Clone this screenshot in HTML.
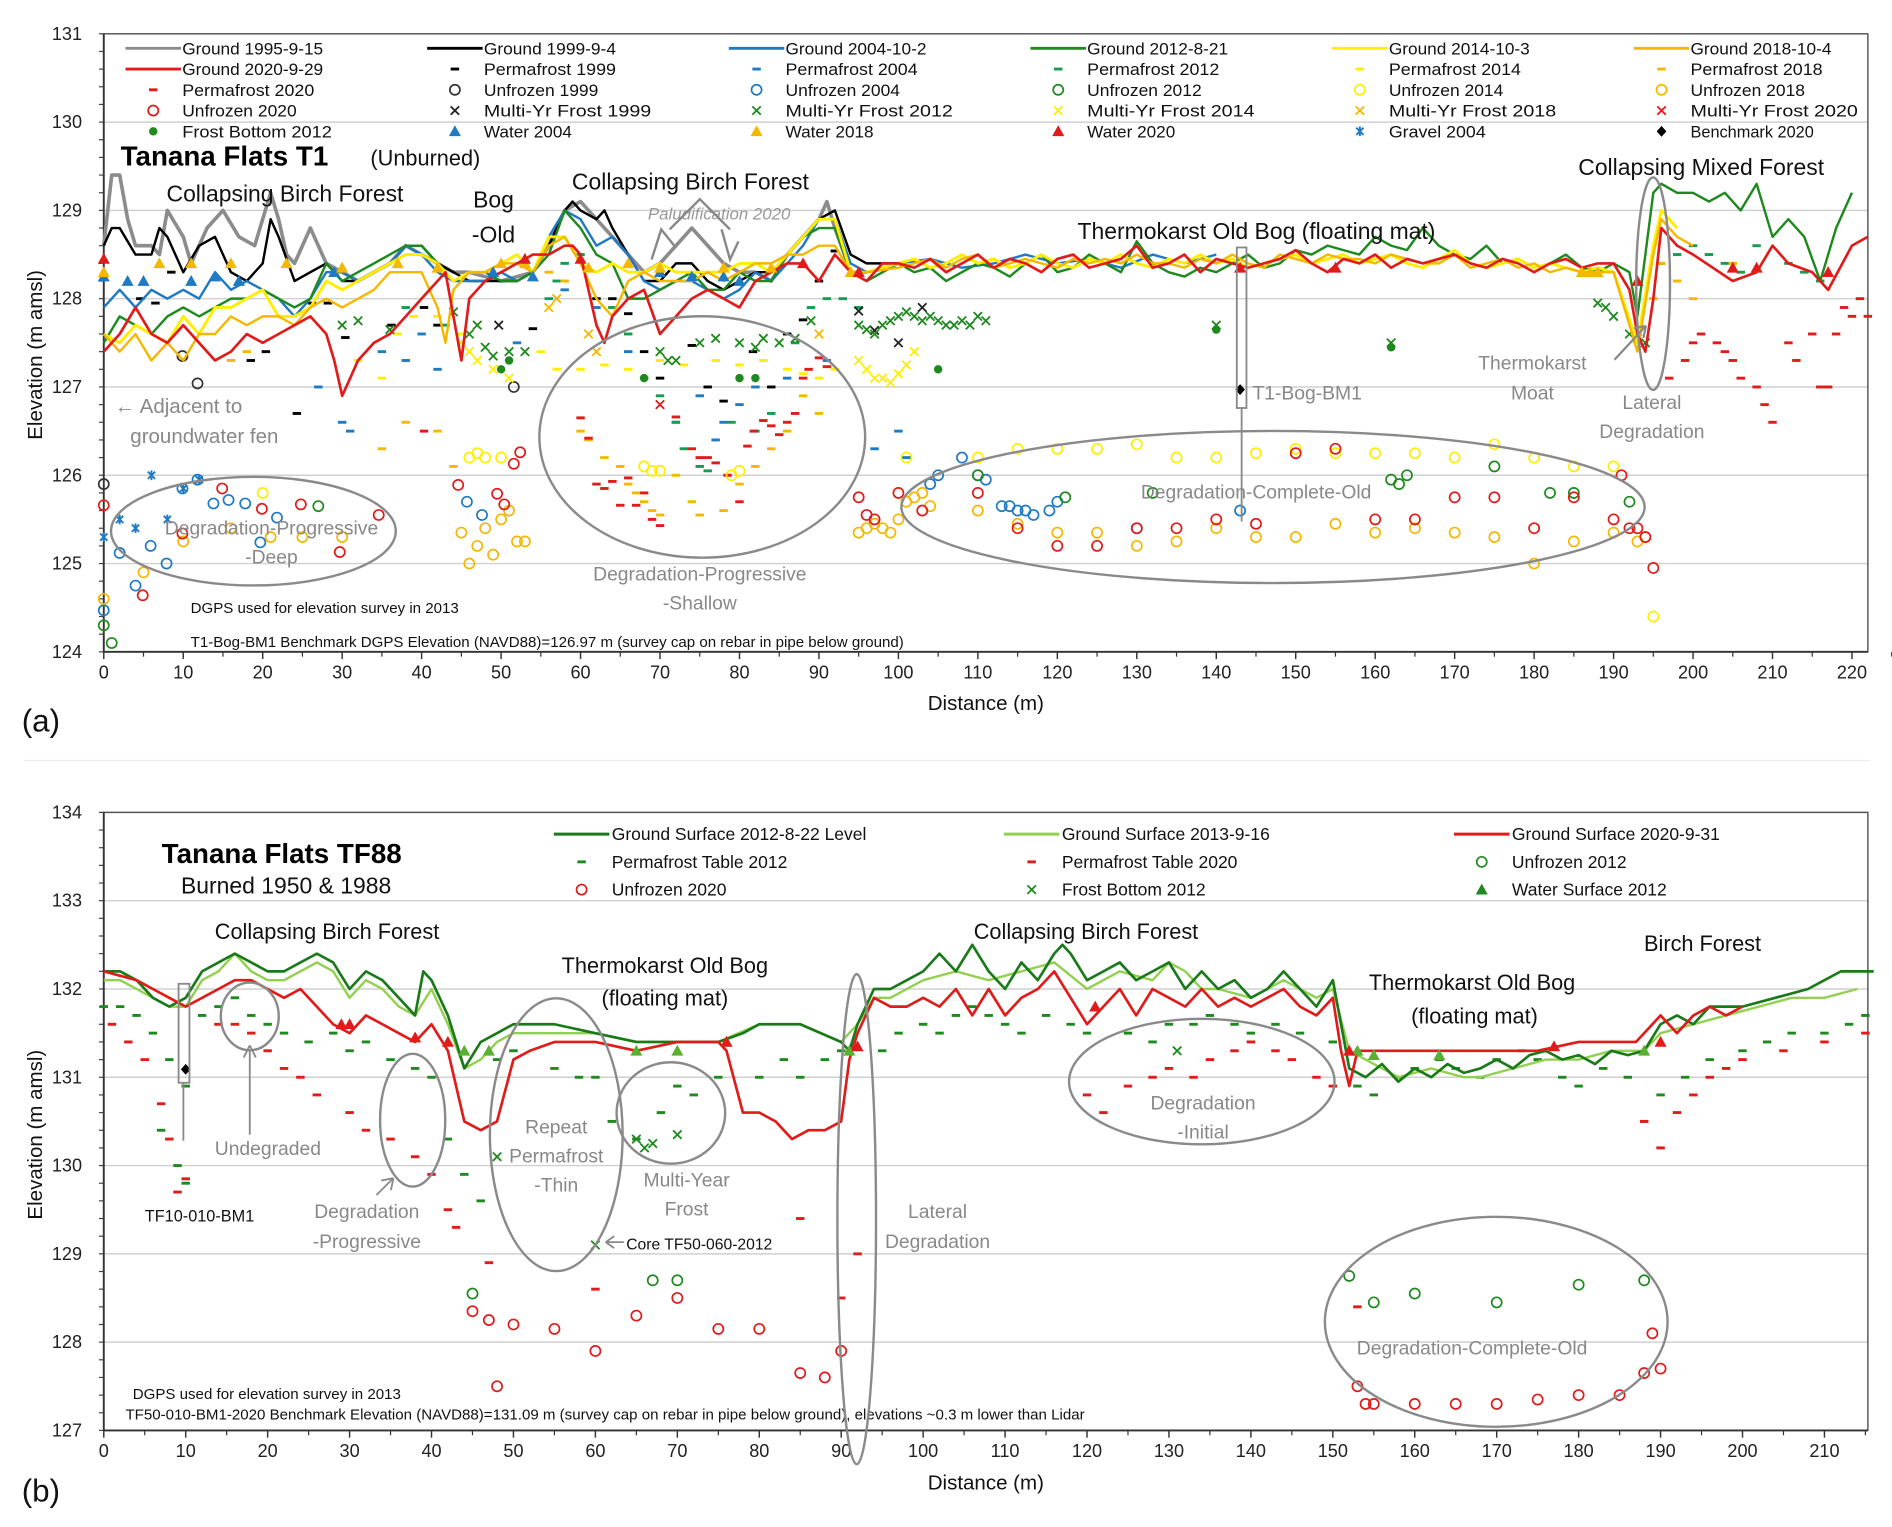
<!DOCTYPE html>
<html><head><meta charset="utf-8">
<style>
html,body{margin:0;padding:0;background:#fff;}
svg{display:block;font-family:"Liberation Sans",sans-serif;}
</style></head>
<body>
<svg id="fig" width="1892" height="1527" viewBox="0 0 1568 1265" preserveAspectRatio="none" xmlns="http://www.w3.org/2000/svg">
<g id="A"></g>
<g id="B"></g>
</svg>
<script>
// ---------- DATA: chart (a) ----------
const aXTicks=[0,10,20,30,40,50,60,70,80,90,100,110,120,130,140,150,160,170,180,190,200,210,220];
const aYTicks=[124,125,126,127,128,129,130,131];
const flatX=[100,102,104,106,108,110,112,114,116,118,120,122,124,126,128,130,132,134,136,138,140,142,144,146,148,150,152,154,156,158,160,162,164,166,168,170,172,174,176,178,180,182,184,186,188,190];
const flat2012=[128.4,128.3,128.35,128.2,128.3,128.4,128.35,128.25,128.4,128.5,128.3,128.35,128.5,128.4,128.3,128.65,128.4,128.3,128.25,128.35,128.3,128.4,128.5,128.35,128.4,128.55,128.5,128.6,128.55,128.5,128.7,128.6,128.55,128.8,128.6,128.5,128.45,128.6,128.4,128.45,128.35,128.4,128.5,128.35,128.3,128.4];
const flat2014=[128.4,128.45,128.35,128.4,128.5,128.4,128.45,128.35,128.4,128.5,128.4,128.35,128.45,128.4,128.5,128.4,128.35,128.45,128.4,128.5,128.4,128.45,128.35,128.4,128.45,128.5,128.4,128.45,128.5,128.4,128.45,128.5,128.4,128.35,128.45,128.55,128.4,128.35,128.4,128.45,128.35,128.4,128.35,128.3,128.35,128.3];
const flat2018=[128.35,128.4,128.45,128.35,128.45,128.5,128.35,128.4,128.45,128.4,128.35,128.45,128.4,128.45,128.4,128.5,128.4,128.4,128.35,128.45,128.4,128.5,128.4,128.35,128.5,128.45,128.4,128.5,128.45,128.45,128.4,128.5,128.45,128.4,128.4,128.5,128.35,128.4,128.45,128.35,128.4,128.3,128.35,128.3,128.3,128.3];
const flat2020=[128.4,128.35,128.45,128.3,128.4,128.5,128.35,128.45,128.4,128.3,128.45,128.5,128.35,128.4,128.45,128.6,128.35,128.4,128.5,128.3,128.45,128.4,128.35,128.4,128.45,128.55,128.4,128.3,128.45,128.4,128.5,128.35,128.45,128.4,128.45,128.5,128.4,128.35,128.45,128.4,128.3,128.4,128.45,128.35,128.4,128.4];
const g1995x=[0,1,2,3,4,6,7,8,10,11,13,15,17,19,21,22,23,24,26,28,30,32,34,36,38,40,42,44,46,50,54,56,58,60,62,64,66,68,70,72,74,76,78,80,82,84,86,88,90,91,92,94,96];
const g1995y=[128.6,129.4,129.4,128.9,128.6,128.6,128.5,129.0,128.7,128.4,128.8,129.0,128.7,128.6,129.2,128.9,128.5,128.4,128.8,128.4,128.3,128.2,128.3,128.4,128.6,128.5,128.4,128.3,128.3,128.2,128.3,128.6,129.0,129.1,128.9,128.7,128.5,128.3,128.4,128.6,128.8,128.6,128.4,128.3,128.3,128.2,128.5,128.7,128.9,129.1,128.8,128.3,128.3];
const g1999x=[0,1,2,4,6,7,8,10,12,14,16,18,20,21,22,24,26,28,30,32,34,36,38,40,42,44,46,48,50,52,54,56,58,59,60,62,63,64,66,68,70,72,74,76,78,80,82,84,86,88,90,92,94,96,98,100];
const g1999y=[128.6,128.8,128.8,128.5,128.5,128.8,128.7,128.3,128.6,128.7,128.3,128.2,128.4,128.9,128.7,128.2,128.3,128.4,128.2,128.2,128.3,128.4,128.6,128.6,128.4,128.3,128.2,128.2,128.2,128.2,128.3,128.6,129.0,129.1,129.0,128.9,129.0,128.8,128.5,128.2,128.2,128.4,128.4,128.2,128.1,128.2,128.3,128.3,128.5,128.7,128.9,129.0,128.5,128.4,128.4,128.4];
const g2004x=[0,2,4,6,8,10,12,14,16,18,20,22,24,26,28,30,32,34,36,38,40,42,44,46,48,50,52,54,56,58,60,62,64,66,68,70,72,74,76,78,80,82,84,86,88,90,92,94,96,100,104,108,112,116,120,124,128,132,136,140];
const g2004y=[127.9,128.1,127.9,128.1,128.0,128.1,128.0,128.3,128.1,128.2,128.1,128.0,127.8,128.0,128.3,128.3,128.2,128.3,128.4,128.6,128.5,128.3,128.2,128.2,128.2,128.3,128.2,128.3,128.7,129.0,128.9,128.6,128.7,128.5,128.2,128.1,128.2,128.2,128.1,128.0,128.1,128.3,128.2,128.4,128.6,128.9,128.9,128.4,128.3,128.4,128.45,128.35,128.4,128.5,128.4,128.45,128.35,128.5,128.4,128.5];
const g2012x=[0,2,4,6,8,10,12,14,16,18,20,22,24,26,28,30,32,34,36,38,40,42,44,46,48,50,52,54,56,58,60,62,64,66,68,70,72,74,76,78,80,82,84,86,88,90,92,94,96,...flatX,192,193,194,195,196,198,200,202,204,206,208,210,212,214,216,218,220];
const g2012y=[127.5,127.8,127.7,127.6,127.8,127.9,127.8,127.9,128.0,128.0,128.1,128.0,127.9,128.0,128.4,128.2,128.3,128.4,128.5,128.6,128.6,128.4,128.2,128.3,128.3,128.2,128.2,128.3,128.5,129.0,128.8,128.5,128.4,128.0,128.0,128.1,128.2,128.3,128.1,128.1,128.3,128.2,128.2,128.5,128.7,128.8,128.8,128.3,128.2,...flat2012,128.3,127.8,128.5,129.2,129.3,129.2,129.2,129.1,129.2,129.0,129.3,128.7,128.9,128.7,128.2,128.8,129.2];
const g2014x=[0,2,4,6,8,10,12,14,16,18,20,22,24,26,28,30,32,34,36,38,40,42,44,46,48,50,52,54,56,58,60,62,64,66,68,70,72,74,76,78,80,82,84,86,88,90,92,94,96,...flatX,193,195,196,198];
const g2014y=[127.6,127.5,127.7,127.6,127.5,127.8,127.6,127.9,127.9,128.0,128.1,127.8,127.8,127.9,128.2,128.1,128.2,128.3,128.4,128.5,128.5,128.4,128.2,128.3,128.3,128.4,128.5,128.3,128.7,128.7,128.4,128.3,128.4,128.3,128.3,128.4,128.3,128.3,128.3,128.3,128.4,128.4,128.3,128.5,128.7,128.9,128.9,128.3,128.3,...flat2014,127.5,128.6,129.0,128.8];
const g2018x=[0,2,4,6,8,10,12,14,16,18,20,22,24,26,28,30,32,34,36,38,40,42,43,44,46,48,50,52,54,56,58,60,62,64,66,68,70,72,74,76,78,80,82,84,86,88,90,92,94,96,...flatX,193,195,196,198,200];
const g2018y=[127.6,127.4,127.6,127.3,127.5,127.3,127.6,127.6,127.8,127.7,127.8,127.8,127.7,127.9,128.0,127.9,128.0,128.1,128.3,128.3,128.3,127.9,127.5,128.1,128.3,128.3,128.4,128.4,128.3,128.6,128.7,128.4,128.0,127.8,128.2,128.3,128.2,128.2,128.2,128.3,128.2,128.3,128.4,128.4,128.5,128.5,128.6,128.6,128.3,128.3,...flat2018,127.4,128.5,128.9,128.7,128.6];
const g2020x=[0,2,4,6,8,10,12,14,16,18,20,22,24,26,28,29,30,31,32,34,36,38,40,42,43,44,45,46,48,50,52,54,56,58,59,60,61,62,63,64,66,68,70,72,74,76,78,80,82,84,86,88,90,92,94,96,98,...flatX,192,193,194,195,196,198,200,205,208,210,212,215,217,220,222];
const g2020y=[127.4,127.6,127.9,127.6,127.5,127.7,127.5,127.3,127.4,127.6,127.5,127.6,127.7,127.8,127.6,127.3,126.9,127.1,127.3,127.5,127.6,127.8,128.0,128.2,128.3,127.8,127.3,128.0,128.2,128.3,128.4,128.5,128.5,128.6,128.6,128.5,128.1,127.7,127.5,127.8,128.0,128.1,127.6,127.8,128.0,128.1,128.0,127.9,128.2,128.3,128.4,128.4,128.2,128.5,128.3,128.2,128.4,...flat2020,128.1,127.6,127.4,128.0,128.8,128.6,128.5,128.2,128.3,128.6,128.4,128.3,128.1,128.6,128.7];
const pf1999=[[4.6,128],[6.5,127.95],[8.5,128.3],[18.5,127.3],[20.4,127.4],[24.3,126.7],[26.2,127.95],[28.2,127.95],[30.4,127.56],[36.2,127.7],[40.3,127.9],[42,127.7],[54,127.66],[62,128],[64,128],[66,127.83],[68,127.4],[70,127.1],[74,127.47],[76,127],[78,126.84],[81.7,127.4],[84,127],[86,127.6],[88,127.76],[90,128.2],[92,128.54]];
const pf2004=[[27,127],[30,126.6],[31,126.5],[35,127.4],[38,127.3],[40,127.6],[42,127.2],[52,127.5],[58,128.1],[62,127.9],[66,127.4],[72,126.6],[75,126.9],[77,126.4],[78,126.6],[80,126.8],[82,127],[86,127.1],[91,127.3],[97,126.3],[100,126.5],[101,126.2]];
const pf2012=[[38,127.9],[43,127.7],[56,128],[57,128.2],[58,128.4],[60,128.5],[64,127.9],[66,127.6],[68,127.1],[70,126.9],[72,126.6],[73,126.3],[75,126.1],[76,126.05],[79,126.6],[82,126.5],[84,126.7],[87,127.5],[89,127.9],[91,128],[93,128],[95,127.9],[196,128.4],[198,128.5],[200,128.6],[202,128.5],[204,128.4],[206,128.3],[208,128.6],[212,128.4],[214,128.3],[216,128.2]];
const pf2014=[[32,127.3],[35,127.1],[37,127.6],[39,127.8],[42,127.8],[45,127.6],[55,127.4],[57,127.2],[60,127.2],[63,127.25],[66,127.2],[70,127.3],[73,127.25],[77,127.3],[80,127.25],[83,127.3],[86,127.2],[88,127.15],[90,127.1],[92,127.2]];
const pf2018=[[16,127.3],[18,127.4],[35,126.3],[38,126.6],[42,126.5],[44,126.1],[56,128.3],[58,128.2],[60,126.5],[61,126.4],[63,126.2],[65,126.1],[66,125.9],[67,125.8],[68,125.7],[69,125.6],[70,125.55],[72,126],[74,125.7],[75,125.55],[78,125.6],[80,125.9],[82,126.1],[84,126.3],[86,126.5],[88,126.9],[90,126.7],[195,128],[196,128.4],[198,128.2],[200,128],[205,128.4]];
const pf2020=[[40.3,126.5],[60,126.65],[61,126.42],[62,125.9],[63,125.85],[64,125.93],[65,125.66],[66,125.97],[67,125.66],[68,125.8],[69,125.5],[70,125.43],[72,126.66],[74,126.3],[75,126.2],[76,126.2],[77,126.14],[78.5,126],[80,125.7],[81,126.33],[81.8,126.5],[83,126.62],[84,126.56],[85,126.46],[86,126.6],[87,126.7],[88,127.1],[88.7,127.2],[90,127.33],[91,127.23],[197,127.1],[199,127.3],[200,127.5],[201,127.6],[203,127.5],[204,127.4],[205,127.3],[206,127.1],[208,127],[209,126.8],[210,126.6],[212,127.5],[213,127.3],[215,127.6],[216,127],[217,127],[218,127.6],[219,127.9],[220,127.8],[221,128],[222,127.8]];
const uf1999=[[9.9,127.35],[11.8,127.04],[51.6,127],[0,125.9]];
const uf2004=[[13.8,125.68],[15.7,125.72],[17.8,125.68],[19.7,125.24],[21.8,125.52],[2,125.12],[4,124.75],[5.9,125.2],[7.9,125],[0,124.47],[45.7,125.7],[47.6,125.55],[9.9,125.85],[11.8,125.95],[104,125.9],[105,126],[108,126.2],[110,126],[111,125.95],[113,125.65],[114,125.65],[115,125.6],[116,125.6],[117,125.55],[119,125.6],[120,125.7],[130,125.4],[143,125.6]];
const uf2012=[[0,124.3],[1,124.1],[27,125.65],[110,126],[121,125.75],[132,125.8],[162,125.95],[163,125.9],[164,126],[175,126.1],[182,125.8],[185,125.8],[192,125.7]];
const uf2014=[[20,125.8],[46,126.2],[47,126.25],[48,126.2],[50,126.2],[68,126.1],[69,126.05],[70,126.05],[79,126],[80,126.05],[101,126.2],[110,126.2],[115,126.3],[120,126.3],[125,126.3],[130,126.35],[135,126.2],[140,126.2],[145,126.25],[150,126.3],[155,126.25],[160,126.25],[165,126.25],[170,126.2],[175,126.35],[180,126.2],[185,126.1],[190,126.1],[194,125.3],[195,124.4]];
const uf2018=[[0,124.6],[5,124.9],[10,125.25],[16,125.4],[21,125.3],[25,125.3],[30,125.3],[45,125.35],[46,125],[47,125.2],[48,125.4],[49,125.1],[50,125.5],[51,125.6],[52,125.25],[53,125.25],[95,125.35],[96,125.4],[97,125.45],[98,125.4],[99,125.35],[100,125.5],[101,125.7],[102,125.75],[103,125.8],[104,125.65],[110,125.6],[115,125.45],[120,125.35],[125,125.35],[130,125.2],[135,125.25],[140,125.4],[145,125.3],[150,125.3],[155,125.45],[160,125.35],[165,125.4],[170,125.35],[175,125.3],[180,125],[185,125.25],[190,125.35],[193,125.25]];
const uf2020=[[0,125.66],[4.9,124.64],[9.9,125.34],[14.9,125.85],[19.9,125.62],[24.8,125.67],[29.7,125.13],[34.6,125.55],[44.6,125.89],[49.5,125.79],[50.4,125.67],[51.6,126.13],[52.4,126.26],[95,125.75],[96,125.55],[97,125.5],[100,125.8],[103,125.6],[110,125.8],[115,125.4],[120,125.2],[125,125.2],[130,125.4],[135,125.4],[140,125.5],[145,125.45],[150,126.25],[155,126.3],[160,125.5],[165,125.5],[170,125.75],[175,125.75],[180,125.4],[185,125.75],[190,125.5],[191,126],[192,125.4],[193,125.4],[194,125.3],[195,124.95]];
const mx1999=[[49.7,127.7],[95,127.86],[97,127.64],[100,127.5],[103,127.9]];
const mx2012=[[30,127.7],[32,127.75],[36,127.65],[44,127.85],[46,127.6],[47,127.7],[48,127.45],[49,127.35],[51,127.4],[53,127.4],[70,127.4],[71,127.3],[72,127.3],[75,127.5],[77,127.55],[80,127.5],[82,127.45],[83,127.55],[85,127.5],[87,127.55],[89,127.75],[95,127.7],[96,127.65],[97,127.6],[98,127.7],[99,127.75],[100,127.8],[101,127.85],[102,127.8],[103,127.75],[104,127.8],[105,127.75],[106,127.7],[107,127.7],[108,127.75],[109,127.7],[110,127.8],[111,127.75],[140,127.7],[162,127.5],[188,127.95],[189,127.9],[190,127.8],[192,127.6],[193,127.55],[194,127.5]];
const mx2014=[[45,127.5],[46,127.4],[47,127.3],[49,127.2],[51,127.1],[95,127.3],[96,127.2],[97,127.1],[98,127.1],[99,127.05],[100,127.15],[101,127.25],[102,127.4]];
const mx2018=[[56,127.9],[57,128],[61,127.6],[62,127.4],[90,127.6]];
const mx2020=[[70,126.8]];
const fb2012=[[50,127.2],[51,127.3],[68,127.1],[80,127.1],[82,127.1],[105,127.2],[140,127.65],[162,127.45]];
const wt2004=[[0,128.25],[3,128.2],[5,128.2],[11,128.2],[14,128.25],[17,128.2],[29,128.3],[49,128.3],[54,128.25],[70,128.3],[74,128.25],[78,128.25],[80,128.2]];
const wt2018=[[0,128.3],[7,128.4],[11,128.4],[16,128.4],[23,128.4],[30,128.35],[37,128.4],[42,128.35],[50,128.4],[53,128.4],[61,128.35],[66,128.4],[70,128.35],[78,128.35],[84,128.35],[94,128.3],[186,128.3],[187,128.3],[188,128.3]];
const wt2020=[[0,128.45],[53,128.45],[60,128.45],[88,128.4],[95,128.3],[143,128.35],[155,128.35],[193,128.2],[205,128.35],[208,128.35],[217,128.3]];
const gr2004=[[0,125.3],[2,125.5],[4,125.4],[6,126],[8,125.5],[10,125.85],[12,125.95]];
const bm2020=[[143,126.97]];

// ---------- DATA: chart (b) ----------
const bXTicks=[0,10,20,30,40,50,60,70,80,90,100,110,120,130,140,150,160,170,180,190,200,210];
const bYTicks=[127,128,129,130,131,132,133,134];
const b2012x=[0,2,4,6,8,10,12,14,16,18,20,22,24,26,28,30,32,34,36,38,39,40,42,44,46,48,50,52,55,60,65,70,75,78,80,85,90,91,92,94,96,98,100,102,104,106,108,110,112,114,116,117,118,120,122,124,126,128,130,132,134,136,138,140,142,144,146,148,150,151,152,154,156,158,160,162,164,166,168,170,172,174,176,178,180,182,184,186,188,190,192,194,196,200,204,208,210,212,214,216];
const b2012y=[132.2,132.2,132.1,131.9,131.8,131.9,132.2,132.3,132.4,132.3,132.2,132.2,132.3,132.4,132.3,132.0,132.2,132.1,131.9,131.7,132.2,132.1,131.7,131.1,131.4,131.5,131.6,131.6,131.6,131.5,131.4,131.4,131.4,131.5,131.6,131.6,131.4,131.3,131.6,132.0,132.0,132.1,132.2,132.4,132.2,132.5,132.2,132.0,132.3,132.1,132.4,132.5,132.4,132.1,132.2,132.3,132.1,132.2,132.3,132.0,132.2,132.0,132.1,131.9,132.0,132.2,132.0,131.8,132.1,131.6,131.1,131.0,131.15,130.95,131.1,131.0,131.15,131.05,131.1,131.2,131.1,131.25,131.3,131.2,131.25,131.15,131.3,131.25,131.3,131.6,131.7,131.6,131.8,131.8,131.9,132.0,132.1,132.2,132.2,132.2];
const b2013x=[0,2,4,6,8,10,12,14,16,18,20,22,24,26,28,30,32,34,36,38,40,42,44,46,48,50,55,60,65,70,75,80,85,90,92,94,96,100,104,108,112,116,120,124,128,130,132,134,136,140,144,148,150,152,154,158,162,166,168,176,180,184,188,190,194,198,202,206,210,214];
const b2013y=[132.1,132.1,132.0,131.9,131.8,131.8,132.1,132.2,132.4,132.2,132.1,132.1,132.2,132.3,132.2,131.9,132.1,132.0,131.8,131.7,132.0,131.6,131.1,131.2,131.4,131.5,131.5,131.5,131.4,131.4,131.4,131.6,131.6,131.4,131.6,131.9,131.9,132.1,132.2,132.1,132.2,132.3,132.0,132.2,132.1,132.3,132.2,132.0,132.0,131.9,132.1,131.9,132.0,131.3,131.2,131.0,131.1,131.0,131.0,131.2,131.2,131.3,131.3,131.5,131.6,131.7,131.8,131.9,131.9,132.0];
const b2020x=[0,4,6,8,10,12,14,16,18,20,22,24,28,30,32,34,36,38,40,42,44,46,48,50,52,55,60,65,70,75,76,78,80,82,84,86,88,90,91,92,94,96,98,100,102,104,106,108,110,112,114,116,118,120,122,124,126,128,130,132,134,136,138,140,142,144,146,148,150,151,152,153,156,160,165,170,175,180,185,187,190,192,194,196,198,200];
const b2020y=[132.2,132.1,132.0,131.9,131.8,131.9,132.0,132.1,132.1,132.0,131.9,132.0,131.6,131.5,131.7,131.6,131.5,131.4,131.6,131.3,130.5,130.4,130.5,131.2,131.3,131.4,131.4,131.3,131.4,131.4,131.3,130.6,130.6,130.5,130.3,130.4,130.4,130.5,131.2,131.5,131.9,131.8,131.8,131.9,131.8,132.0,131.7,132.0,131.7,131.9,132.0,132.2,131.9,131.6,131.8,132.0,131.7,132.0,131.9,131.8,132.0,131.8,131.9,131.8,131.9,132.0,131.8,131.7,131.9,131.3,130.9,131.3,131.3,131.3,131.3,131.3,131.3,131.4,131.4,131.4,131.7,131.5,131.7,131.8,131.7,131.8];
const bpf2012=[[0,131.8],[2,131.8],[4,131.7],[6,131.5],[8,131.2],[10,130.9],[7,130.4],[9,130.0],[10,129.8],[12,131.7],[14,131.8],[16,131.9],[18,131.7],[20,131.6],[22,131.5],[25,131.4],[28,131.5],[30,131.3],[32,131.4],[35,131.2],[38,131.1],[40,131.0],[42,130.3],[44,129.9],[46,129.6],[48,131.2],[50,131.3],[55,131.1],[58,131.0],[60,131.0],[62,130.5],[65,130.3],[68,130.6],[70,130.9],[72,130.8],[75,131.0],[80,131.0],[83,131.2],[85,131.0],[88,131.2],[90,131.3],[95,131.3],[97,131.5],[100,131.6],[102,131.5],[104,131.7],[106,131.8],[108,131.7],[110,131.6],[112,131.5],[115,131.7],[118,131.6],[120,131.5],[125,131.5],[128,131.4],[130,131.6],[133,131.6],[135,131.7],[138,131.6],[140,131.5],[143,131.6],[146,131.5],[150,131.4],[153,130.9],[155,130.8],[158,131.0],[160,131.1],[163,131.2],[165,131.1],[168,131.0],[170,131.2],[173,131.3],[175,131.2],[178,131.0],[180,130.9],[183,131.1],[186,131.0],[188,130.5],[190,130.8],[193,131.0],[196,131.2],[200,131.3],[203,131.4],[206,131.5],[210,131.5],[213,131.6],[215,131.7]];
const bpf2020=[[1,131.6],[3,131.4],[5,131.2],[7,130.7],[8,130.3],[9,129.7],[10,129.85],[14,131.6],[16,131.6],[18,131.5],[20,131.3],[22,131.1],[24,131.0],[26,130.8],[30,130.6],[32,130.4],[35,130.3],[38,130.1],[40,129.9],[42,129.5],[43,129.3],[47,128.9],[60,128.6],[85,129.4],[90,128.5],[92,129.0],[120,130.8],[122,130.6],[125,130.9],[128,131.0],[130,131.1],[133,131.0],[135,131.2],[138,131.3],[140,131.4],[143,131.3],[145,131.2],[148,131.0],[150,130.9],[153,128.4],[188,130.5],[190,130.2],[192,130.6],[194,130.8],[196,131.0],[198,131.1],[200,131.2],[205,131.3],[210,131.4],[215,131.5]];
const buf2012=[[45,128.55],[67,128.7],[70,128.7],[152,128.75],[155,128.45],[160,128.55],[170,128.45],[180,128.65],[188,128.7]];
const buf2020=[[45,128.35],[47,128.25],[50,128.2],[55,128.15],[60,127.9],[65,128.3],[70,128.5],[75,128.15],[80,128.15],[85,127.65],[88,127.6],[90,127.9],[48,127.5],[153,127.5],[154,127.3],[155,127.3],[160,127.3],[165,127.3],[170,127.3],[175,127.35],[180,127.4],[185,127.4],[188,127.65],[189,128.1],[190,127.7]];
const bfb2012=[[48,130.1],[65,130.3],[66,130.2],[67,130.25],[70,130.35],[60,129.1],[131,131.3]];
const bwt2012=[[44,131.3],[47,131.3],[65,131.3],[70,131.3],[76,131.4],[91,131.3],[153,131.3],[155,131.25],[163,131.25],[188,131.3]];
const bwt2020=[[29,131.6],[30,131.6],[38,131.45],[42,131.4],[76,131.4],[92,131.35],[121,131.8],[152,131.3],[177,131.35],[190,131.4]];
const bbm=[[10,131.09]];

// ---------- DRAWING ----------
const NS="http://www.w3.org/2000/svg";
function mk(parent,tag,attrs,txt){const e=document.createElementNS(NS,tag);for(const k in attrs)e.setAttribute(k,attrs[k]);if(txt!==undefined)e.textContent=txt;parent.appendChild(e);return e;}
const C={gray:"#8c8c8c",black:"#000",blue:"#1f7ac4",green:"#1e8a1e",yellow:"#ffee00",gold:"#f5b800",red:"#e11a1a",lgreen:"#92d050",dgreen:"#1a7a1a"};

function axesFactory(L,T,R,B,x0,x1,y0,y1){
  return {X:v=>L+(v-x0)/(x1-x0)*(R-L), Y:v=>B-(v-y0)/(y1-y0)*(B-T)};
}
function marker(g,type,px,py,col){
  let e;
  if(type==="dash"){e=mk(g,"line",{x1:px-3.5,x2:px+3.5,y1:py,y2:py,stroke:col,"stroke-width":2.4});}
  else if(type==="circle"){e=mk(g,"circle",{cx:px,cy:py,r:4.2,fill:"none",stroke:col,"stroke-width":1.4});}
  else if(type==="x"){e=mk(g,"path",{d:`M${px-3.5},${py-3.5}L${px+3.5},${py+3.5}M${px-3.5},${py+3.5}L${px+3.5},${py-3.5}`,stroke:col,"stroke-width":1.5,fill:"none"});}
  else if(type==="dot"){e=mk(g,"circle",{cx:px,cy:py,r:3.5,fill:col});}
  else if(type==="tri"){e=mk(g,"path",{d:`M${px},${py-5}L${px+5},${py+4}L${px-5},${py+4}Z`,fill:col});}
  else if(type==="star"){e=mk(g,"path",{d:`M${px-3},${py-3}L${px+3},${py+3}M${px-3},${py+3}L${px+3},${py-3}M${px},${py-4}L${px},${py+4}`,stroke:col,"stroke-width":1.6,fill:"none"});}
  else if(type==="diamond"){e=mk(g,"path",{d:`M${px},${py-4.5}L${px+4},${py}L${px},${py+4.5}L${px-4},${py}Z`,fill:col});}
  return e;
}
function drawLine(g,ax,xs,ys,col,w,name){
  const n=Math.min(xs.length,ys.length);
  let d="";
  for(let i=0;i<n;i++){d+=(i?"L":"M")+ax.X(xs[i]).toFixed(1)+","+ax.Y(ys[i]).toFixed(1);}
  const p=mk(g,"path",{d:d,fill:"none",stroke:col,"stroke-width":w,"stroke-linejoin":"round"});
  
  
}
function drawPts(g,ax,pts,type,col,name){
  const sg=mk(g,"g",{});
  
  
  pts.forEach(p=>{const m=marker(sg,type,ax.X(p[0]),ax.Y(p[1]),col);
    
    });
}
function frame(g,ax,L,T,R,B,xt,yt,name){
  yt.forEach(v=>{const l=mk(g,"line",{x1:L,x2:R,y1:ax.Y(v),y2:ax.Y(v),stroke:"#d0d0d0","stroke-width":1.2});
    
    
    const t=mk(g,"text",{x:L-18,y:ax.Y(v)+5,"text-anchor":"end","font-size":15,fill:"#222"},String(v));
    
    });
  for(let v=yt[0];v<yt[yt.length-1];v+=0.2){mk(g,"line",{x1:L-4,x2:L,y1:ax.Y(v),y2:ax.Y(v),stroke:"#444","stroke-width":1});}
  const fr=mk(g,"rect",{x:L,y:T,width:R-L,height:B-T,fill:"none",stroke:"#555","stroke-width":1.2});
  
  
  mk(g,"line",{x1:L,x2:L,y1:T,y2:B,stroke:"#333","stroke-width":1.6});
  mk(g,"line",{x1:L,x2:R,y1:B,y2:B,stroke:"#333","stroke-width":1.6});
  xt.forEach(v=>{const x=ax.X(v);mk(g,"line",{x1:x,x2:x,y1:B,y2:B+6,stroke:"#333","stroke-width":1.2});
    const t=mk(g,"text",{x:x,y:B+22,"text-anchor":"middle","font-size":15,fill:"#222"},String(v));
    
    
    mk(g,"line",{x1:x+ax.X(5)-ax.X(0),x2:x+ax.X(5)-ax.X(0),y1:B,y2:B+4,stroke:"#333","stroke-width":1});});
}
function txt(g,x,y,s,size,col,name,anchor,extra){
  const a={x:x,y:y,"font-size":size,fill:col,"text-anchor":anchor||"start"};
  if(extra)Object.assign(a,extra);
  const t=mk(g,"text",a,s);
  
  
  return t;
}
function ell(g,cx,cy,rx,ry,name){const e=mk(g,"ellipse",{cx:cx,cy:cy,rx:rx,ry:ry,fill:"none",stroke:"#8a8a8a","stroke-width":2});
  
  }

// ===== Chart A =====
const gA=document.getElementById("A");
const axA=axesFactory(86,28,1548,540,0,222,124,131);
frame(gA,axA,86,28,1548,540,aXTicks,aYTicks,"chart-a");
drawPts(gA,axA,pf1999,"dash",C.black,"permafrost-1999");
drawPts(gA,axA,pf2004,"dash",C.blue,"permafrost-2004");
drawPts(gA,axA,pf2012,"dash","#1a9a50","permafrost-2012");
drawPts(gA,axA,pf2014,"dash",C.yellow,"permafrost-2014");
drawPts(gA,axA,pf2018,"dash",C.gold,"permafrost-2018");
drawPts(gA,axA,pf2020,"dash",C.red,"permafrost-2020");
drawPts(gA,axA,uf1999,"circle","#333","unfrozen-1999");
drawPts(gA,axA,uf2004,"circle",C.blue,"unfrozen-2004");
drawPts(gA,axA,uf2012,"circle",C.green,"unfrozen-2012");
drawPts(gA,axA,uf2014,"circle",C.yellow,"unfrozen-2014");
drawPts(gA,axA,uf2018,"circle",C.gold,"unfrozen-2018");
drawPts(gA,axA,uf2020,"circle",C.red,"unfrozen-2020");
drawPts(gA,axA,mx1999,"x","#222","multi-yr-frost-1999");
drawPts(gA,axA,mx2012,"x",C.green,"multi-yr-frost-2012");
drawPts(gA,axA,mx2014,"x",C.yellow,"multi-yr-frost-2014");
drawPts(gA,axA,mx2018,"x",C.gold,"multi-yr-frost-2018");
drawPts(gA,axA,mx2020,"x",C.red,"multi-yr-frost-2020");
drawPts(gA,axA,fb2012,"dot",C.green,"frost-bottom-2012");
drawPts(gA,axA,gr2004,"star",C.blue,"gravel-2004");
drawLine(gA,axA,g1995x,g1995y,C.gray,3,"ground-1995-line");
drawLine(gA,axA,g1999x,g1999y,C.black,2,"ground-1999-line");
drawLine(gA,axA,g2004x,g2004y,C.blue,2,"ground-2004-line");
drawLine(gA,axA,g2012x,g2012y,C.green,2,"ground-2012-line");
drawLine(gA,axA,g2014x,g2014y,C.yellow,2.4,"ground-2014-line");
drawLine(gA,axA,g2018x,g2018y,C.gold,2,"ground-2018-line");
drawLine(gA,axA,g2020x,g2020y,C.red,2.2,"ground-2020-line");
drawPts(gA,axA,wt2004,"tri",C.blue,"water-2004");
drawPts(gA,axA,wt2018,"tri",C.gold,"water-2018");
drawPts(gA,axA,wt2020,"tri",C.red,"water-2020");
drawPts(gA,axA,bm2020,"diamond","#000","benchmark-2020");
// legend A
const legA=mk(gA,"g",{});


const legAItems=[
 ["Ground 1995-9-15","line",C.gray],["Ground 1999-9-4","line",C.black],["Ground 2004-10-2","line",C.blue],["Ground 2012-8-21","line",C.green],["Ground 2014-10-3","line",C.yellow],["Ground 2018-10-4","line",C.gold],
 ["Ground 2020-9-29","line",C.red],["Permafrost 1999","dash",C.black],["Permafrost 2004","dash",C.blue],["Permafrost 2012","dash","#1a9a50"],["Permafrost 2014","dash",C.yellow],["Permafrost 2018","dash",C.gold],
 ["Permafrost 2020","dash",C.red],["Unfrozen 1999","circle","#333"],["Unfrozen 2004","circle",C.blue],["Unfrozen 2012","circle",C.green],["Unfrozen 2014","circle",C.yellow],["Unfrozen 2018","circle",C.gold],
 ["Unfrozen 2020","circle",C.red],["Multi-Yr Frost 1999","x","#222"],["Multi-Yr Frost 2012","x",C.green],["Multi-Yr Frost 2014","x",C.yellow],["Multi-Yr Frost 2018","x",C.gold],["Multi-Yr Frost 2020","x",C.red],
 ["Frost Bottom 2012","dot",C.green],["Water 2004","tri",C.blue],["Water 2018","tri",C.gold],["Water 2020","tri",C.red],["Gravel 2004","star",C.blue],["Benchmark 2020","diamond","#000"]];
legAItems.forEach((it,i)=>{const col=i%6,row=Math.floor(i/6);const lx=104+col*250,ly=40+row*17.2;
  const eg=mk(legA,"g",{});
  
  
  if(it[1]==="line")mk(eg,"line",{x1:lx,x2:lx+46,y1:ly,y2:ly,stroke:it[2],"stroke-width":2.4});
  else marker(eg,it[1],lx+23,ly,it[2]);
  mk(eg,"text",{x:lx+47,y:ly+5,"font-size":13.6,fill:"#111",textLength:it[0].length*7.3,lengthAdjust:"spacingAndGlyphs"},it[0]);});
// annotations A
txt(gA,100,137,"Tanana Flats T1",23,"#000","chart-a-title","start",{"font-weight":"bold"});
txt(gA,307,137,"(Unburned)",18,"#111","chart-a-subtitle");
txt(gA,138,167,"Collapsing Birch Forest",19,"#111","label-collapsing-birch-1");
txt(gA,409,172,"Bog",19,"#111","label-bog","middle");
txt(gA,409,201,"-Old",19,"#111","label-old","middle");
txt(gA,474,157,"Collapsing Birch Forest",19,"#111","label-collapsing-birch-2");
txt(gA,596,182,"Paludification 2020",14,"#999","label-paludification","middle",{"font-style":"italic"});
txt(gA,893,198,"Thermokarst Old Bog (floating mat)",19,"#111","label-thermokarst-bog");
txt(gA,1308,145,"Collapsing Mixed Forest",19,"#111","label-collapsing-mixed");
txt(gA,1270,306,"Thermokarst",16,"#888","label-thermokarst","middle");
txt(gA,1270,331,"Moat",16,"#888","label-moat","middle");
txt(gA,1369,339,"Lateral",16,"#888","label-lateral","middle");
txt(gA,1369,363,"Degradation",16,"#888","label-degradation","middle");
txt(gA,95,342,"← Adjacent to",17,"#888","label-adjacent");
txt(gA,108,367,"groundwater fen",17,"#888","label-groundwater-fen");
txt(gA,1038,331,"T1-Bog-BM1",16,"#888","label-bm1");
txt(gA,225,443,"Degradation-Progressive",16,"#888","label-deg-prog-deep","middle");
txt(gA,225,467,"-Deep",16,"#888","label-deep","middle");
txt(gA,580,481,"Degradation-Progressive",16,"#888","label-deg-prog-shallow","middle");
txt(gA,580,505,"-Shallow",16,"#888","label-shallow","middle");
txt(gA,1041,413,"Degradation-Complete-Old",16,"#888","label-deg-complete","middle");
txt(gA,158,508,"DGPS used for elevation survey in 2013",12.5,"#111","note-dgps-a");
txt(gA,158,536,"T1-Bog-BM1 Benchmark DGPS Elevation (NAVD88)=126.97 m (survey cap on rebar in pipe below ground)",12.5,"#111","note-benchmark-a");
txt(gA,817,588,"Distance (m)",17,"#111","chart-a-x-axis-title","middle");
txt(gA,35,294,"Elevation (m amsl)",17,"#111","chart-a-y-axis-title","middle",{transform:"rotate(-90 35 294)"});
txt(gA,18,606,"(a)",26,"#111","panel-label-a");
ell(gA,210,440,118,45,"ellipse-deep");
ell(gA,582,362,135,100,"ellipse-shallow");
ell(gA,1055,420,308,63,"ellipse-complete-old");
ell(gA,1370,235,14,88,"ellipse-lateral");
mk(gA,"rect",{x:1025,y:205,width:8,height:133,fill:"none",stroke:"#888","stroke-width":1.5});
mk(gA,"line",{x1:1029,x2:1029,y1:338,y2:432,stroke:"#888","stroke-width":1.5});
mk(gA,"path",{d:"M1338,298L1364,270M1364,270L1354,272M1364,270L1362,280",stroke:"#888","stroke-width":1.8,fill:"none"});
mk(gA,"path",{d:"M540,215L548,190L560,205M555,190L580,165L605,190M598,190L605,215L612,200",stroke:"#888","stroke-width":2,fill:"none"});
mk(gA,"line",{x1:20,x2:1550,y1:630,y2:630,stroke:"#eee","stroke-width":1});

// ===== Chart B =====
const gB=document.getElementById("B");
const axB=axesFactory(86,673,1548,1185,0,215.3,127,134);
frame(gB,axB,86,673,1548,1185,bXTicks,bYTicks,"chart-b");
drawPts(gB,axB,bpf2012,"dash",C.green,"permafrost-table-2012");
drawPts(gB,axB,bpf2020,"dash",C.red,"permafrost-table-2020");
drawPts(gB,axB,buf2012,"circle",C.green,"unfrozen-2012-b");
drawPts(gB,axB,buf2020,"circle",C.red,"unfrozen-2020-b");
drawPts(gB,axB,bfb2012,"x",C.green,"frost-bottom-2012-b");
drawLine(gB,axB,b2013x,b2013y,C.lgreen,2,"ground-surface-2013-line");
drawLine(gB,axB,b2012x,b2012y,C.dgreen,2.2,"ground-surface-2012-line");
drawLine(gB,axB,b2020x,b2020y,C.red,2.2,"ground-surface-2020-line");
drawPts(gB,axB,bwt2012,"tri","#5ab030","water-surface-2012");
drawPts(gB,axB,bwt2020,"tri",C.red,"water-surface-2020");
drawPts(gB,axB,bbm,"diamond","#000","benchmark-tf10");
const legB=mk(gB,"g",{});


const legBItems=[["Ground Surface 2012-8-22 Level","line",C.dgreen],["Ground Surface 2013-9-16","line",C.lgreen],["Ground Surface 2020-9-31","line",C.red],
 ["Permafrost Table 2012","dash",C.green],["Permafrost Table 2020","dash",C.red],["Unfrozen 2012","circle",C.green],
 ["Unfrozen 2020","circle",C.red],["Frost Bottom 2012","x",C.green],["Water Surface 2012","tri",C.green]];
legBItems.forEach((it,i)=>{const col=i%3,row=Math.floor(i/3);const lx=459+col*373,ly=691+row*23;
  const eg=mk(legB,"g",{});
  
  
  if(it[1]==="line")mk(eg,"line",{x1:lx,x2:lx+46,y1:ly,y2:ly,stroke:it[2],"stroke-width":2.4});
  else marker(eg,it[1],lx+23,ly,it[2]);
  mk(eg,"text",{x:lx+48,y:ly+5,"font-size":14.5,fill:"#111"},it[0]);});
txt(gB,134,715,"Tanana Flats TF88",23,"#000","chart-b-title","start",{"font-weight":"bold"});
txt(gB,150,740,"Burned 1950 & 1988",19,"#111","chart-b-subtitle");
txt(gB,178,778,"Collapsing Birch Forest",18,"#111","label-b-collapsing-birch-1");
txt(gB,551,806,"Thermokarst Old Bog",18,"#111","label-b-thermokarst-1","middle");
txt(gB,551,833,"(floating mat)",18,"#111","label-b-floating-1","middle");
txt(gB,807,778,"Collapsing Birch Forest",18,"#111","label-b-collapsing-birch-2");
txt(gB,1411,788,"Birch Forest",18,"#111","label-b-birch-forest","middle");
txt(gB,1220,820,"Thermokarst Old Bog",18,"#111","label-b-thermokarst-2","middle");
txt(gB,1222,848,"(floating mat)",18,"#111","label-b-floating-2","middle");
txt(gB,222,957,"Undegraded",16,"#888","label-undegraded","middle");
txt(gB,304,1009,"Degradation",16,"#888","label-b-degradation","middle");
txt(gB,304,1034,"-Progressive",16,"#888","label-b-progressive","middle");
txt(gB,461,939,"Repeat",16,"#888","label-repeat","middle");
txt(gB,461,963,"Permafrost",16,"#888","label-permafrost","middle");
txt(gB,461,987,"-Thin",16,"#888","label-thin","middle");
txt(gB,569,983,"Multi-Year",16,"#888","label-multi-year","middle");
txt(gB,569,1007,"Frost",16,"#888","label-frost","middle");
txt(gB,777,1009,"Lateral",16,"#888","label-b-lateral","middle");
txt(gB,777,1034,"Degradation",16,"#888","label-b-lateral-degradation","middle");
txt(gB,997,919,"Degradation",16,"#888","label-initial-1","middle");
txt(gB,997,943,"-Initial",16,"#888","label-initial-2","middle");
txt(gB,1220,1122,"Degradation-Complete-Old",16,"#888","label-b-complete-old","middle");
txt(gB,120,1012,"TF10-010-BM1",13.5,"#111","label-tf10-bm1");
txt(gB,519,1035,"Core TF50-060-2012",13,"#111","label-core");
txt(gB,110,1159,"DGPS used for elevation survey in 2013",12.5,"#111","note-dgps-b");
txt(gB,104,1176,"TF50-010-BM1-2020 Benchmark Elevation (NAVD88)=131.09 m (survey cap on rebar in pipe below ground), elevations ~0.3 m lower than Lidar",12.5,"#111","note-benchmark-b");
txt(gB,817,1234,"Distance (m)",17,"#111","chart-b-x-axis-title","middle");
txt(gB,35,940,"Elevation (m amsl)",17,"#111","chart-b-y-axis-title","middle",{transform:"rotate(-90 35 940)"});
txt(gB,18,1244,"(b)",26,"#111","panel-label-b");
ell(gB,207,842,24,28,"ellipse-undegraded");
ell(gB,342,928,27,55,"ellipse-progressive");
ell(gB,461,940,55,113,"ellipse-repeat-permafrost");
ell(gB,556,922,45,42,"ellipse-multi-year-frost");
ell(gB,710,1010,16,203,"ellipse-lateral-b");
ell(gB,996,896,110,52,"ellipse-initial");
ell(gB,1240,1095,142,87,"ellipse-complete-old-b");
mk(gB,"rect",{x:148,y:815,width:9,height:82,fill:"none",stroke:"#888","stroke-width":1.5});
mk(gB,"line",{x1:152,x2:152,y1:897,y2:945,stroke:"#888","stroke-width":1.5});
mk(gB,"line",{x1:207,x2:207,y1:870,y2:940,stroke:"#888","stroke-width":1.5});
mk(gB,"path",{d:"M207,866L202,876M207,866L212,876",stroke:"#888","stroke-width":1.5,fill:"none"});
mk(gB,"path",{d:"M312,990L326,976M326,976L316,978M326,976L324,986",stroke:"#888","stroke-width":1.5,fill:"none"});
mk(gB,"path",{d:"M517,1029L502,1029M502,1029L509,1024M502,1029L509,1034",stroke:"#888","stroke-width":1.5,fill:"none"});
</script>
</body></html>
